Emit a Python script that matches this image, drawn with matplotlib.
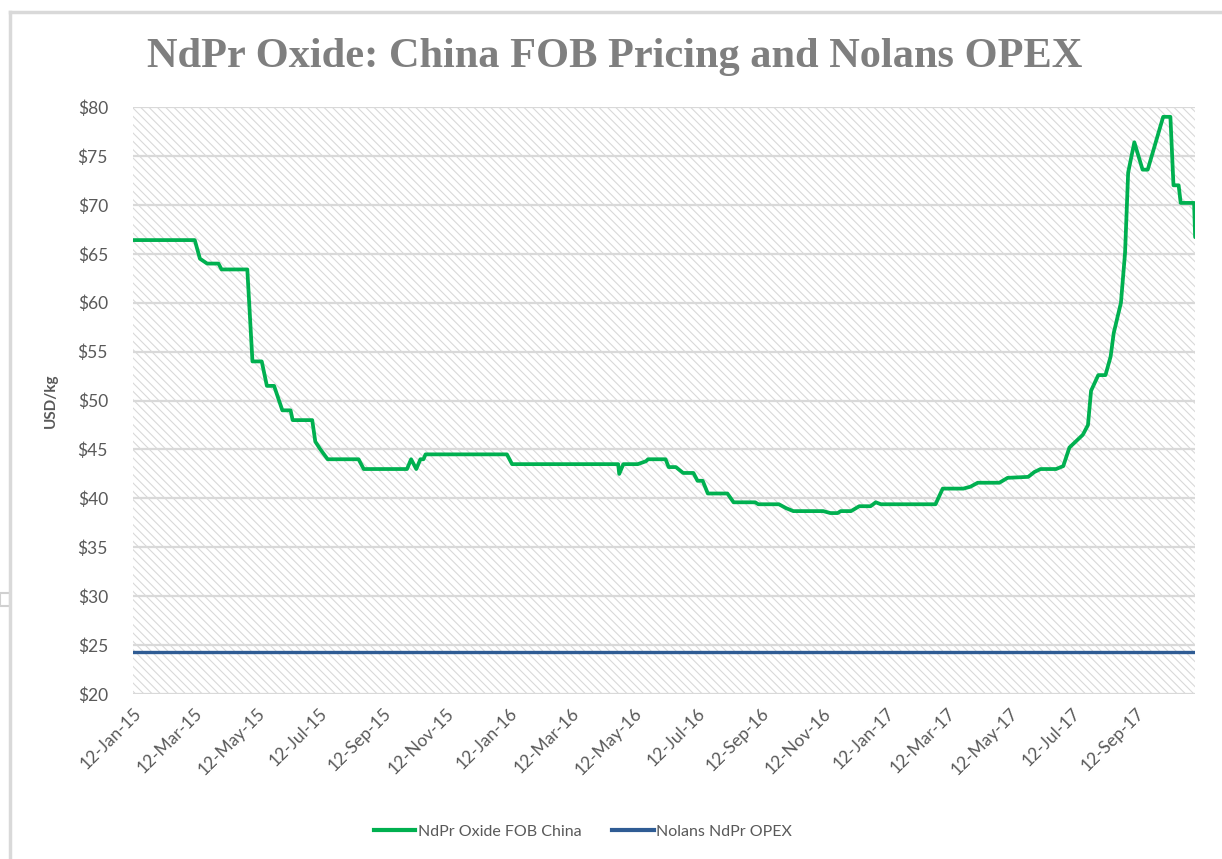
import numpy as np
import pandas as pd
import matplotlib
matplotlib.use("Agg")
import matplotlib.pyplot as plt
from matplotlib.lines import Line2D

plt.rcParams["hatch.linewidth"] = 0.8
plt.rcParams["hatch.color"] = "#d9d9d9"

# ---------------------------------------------------------------
# Data
# ---------------------------------------------------------------

fob_dates = [
    "2015-01-12", "2015-03-13", "2015-03-18", "2015-03-25", "2015-04-05",
    "2015-04-08", "2015-05-03", "2015-05-08", "2015-05-17", "2015-05-22",
    "2015-05-29", "2015-06-06", "2015-06-14", "2015-06-16", "2015-07-05",
    "2015-07-08", "2015-07-13", "2015-07-20", "2015-08-19", "2015-08-24",
    "2015-10-05", "2015-10-09", "2015-10-14", "2015-10-18", "2015-10-21",
    "2015-10-23", "2016-01-10", "2016-01-15", "2016-04-27", "2016-04-28",
    "2016-05-02", "2016-05-16", "2016-05-24", "2016-05-26", "2016-06-12",
    "2016-06-15", "2016-06-22", "2016-06-29", "2016-07-09", "2016-07-13",
    "2016-07-18", "2016-07-23", "2016-08-11", "2016-08-17", "2016-09-07",
    "2016-09-10", "2016-09-30", "2016-10-07", "2016-10-14", "2016-11-12",
    "2016-11-19", "2016-11-26", "2016-11-29", "2016-12-09", "2016-12-17",
    "2016-12-28", "2017-01-02", "2017-01-07", "2017-03-01", "2017-03-08",
    "2017-03-28", "2017-04-04", "2017-04-11", "2017-05-02", "2017-05-10",
    "2017-05-30", "2017-06-05", "2017-06-11", "2017-06-26", "2017-07-03",
    "2017-07-09", "2017-07-15", "2017-07-22", "2017-07-27", "2017-07-30",
    "2017-08-06", "2017-08-13", "2017-08-18", "2017-08-21", "2017-08-28",
    "2017-09-01", "2017-09-04", "2017-09-10", "2017-09-18", "2017-09-23",
    "2017-10-08", "2017-10-15", "2017-10-18", "2017-10-23", "2017-10-25",
    "2017-11-07", "2017-11-08",
]

fob_price = [
    66.4, 66.4, 64.5, 64.0, 64.0,
    63.4, 63.4, 54.0, 54.0, 51.5,
    51.5, 49.0, 49.0, 48.0, 48.0,
    45.8, 45.0, 44.0, 44.0, 43.0,
    43.0, 44.0, 43.0, 44.0, 44.0,
    44.5, 44.5, 43.5, 43.5, 42.5,
    43.5, 43.5, 43.8, 44.0, 44.0,
    43.2, 43.2, 42.6, 42.6, 41.8,
    41.8, 40.5, 40.5, 39.6, 39.6,
    39.4, 39.4, 39.0, 38.7, 38.7,
    38.5, 38.5, 38.7, 38.7, 39.2,
    39.2, 39.6, 39.4, 39.4, 41.0,
    41.0, 41.2, 41.6, 41.6, 42.1,
    42.2, 42.7, 43.0, 43.0, 43.3,
    45.2, 45.8, 46.5, 47.5, 51.0,
    52.6, 52.6, 54.5, 56.9, 60.0,
    65.1, 73.3, 76.4, 73.6, 73.6,
    79.0, 79.0, 72.0, 72.0, 70.2,
    70.2, 66.7,
]

opex_value = 24.3

y_ticks = [20, 25, 30, 35, 40, 45, 50, 55, 60, 65, 70, 75, 80]

x_start = "2015-01-12"
x_end = "2017-11-08"

# ---------------------------------------------------------------
# Plot
# ---------------------------------------------------------------

font = "Lato"
grey = "#595959"

fig = plt.figure(figsize=(12.22, 8.59), dpi=100)
ax = fig.add_axes([0.1088, 0.192, 0.978 - 0.1088, 0.8754 - 0.192])

x0 = pd.Timestamp(x_start)
x1 = pd.Timestamp(x_end)

ax.set_xlim(x0, x1)
ax.set_ylim(y_ticks[0], y_ticks[-1])

# hatched plot area
ax.add_patch(
    plt.Rectangle(
        (0, 0), 1, 1,
        transform=ax.transAxes,
        facecolor="white",
        edgecolor="#d9d9d9",
        hatch="\\\\\\\\",
        linewidth=0,
        zorder=0,
    )
)

for y in y_ticks:
    ax.axhline(y, color="#d9d9d9", linewidth=1.6, zorder=1)

dates = pd.to_datetime(fob_dates)

ax.plot(
    dates, fob_price,
    color="#00B050", linewidth=2.7,
    solid_joinstyle="round", solid_capstyle="round",
    zorder=3,
)

ax.plot(
    [x0, x1], [opex_value, opex_value],
    color="#2F5C94", linewidth=2.4,
    zorder=3,
)

for s in ax.spines.values():
    s.set_visible(False)

ax.set_yticks(y_ticks)
ax.set_yticklabels([f"${v}" for v in y_ticks])

tick_dates = list(pd.date_range(x0, x1, freq=pd.DateOffset(months=2)))
ax.set_xticks(tick_dates)
ax.set_xticklabels([d.strftime("%d-%b-%y") for d in tick_dates])

ax.tick_params(axis="both", length=0, colors=grey, labelsize=12.5)
ax.tick_params(axis="y", pad=18)
ax.tick_params(axis="x", pad=8)
for lab in ax.get_yticklabels() + ax.get_xticklabels():
    lab.set_fontfamily(font)
for lab in ax.get_xticklabels():
    lab.set_rotation(45)
    lab.set_ha("right")
    lab.set_rotation_mode("anchor")

ax.set_ylabel(
    "USD/kg", fontsize=11, fontweight="bold",
    color=grey, family=font, labelpad=14,
)

fig.text(
    0.503, 0.934,
    "NdPr Oxide: China FOB Pricing and Nolans OPEX",
    ha="center", va="center",
    fontsize=30.5, fontweight="bold",
    family="Liberation Serif", color="#7f7f7f",
)

handles = [
    Line2D([], [], color="#00B050", linewidth=3),
    Line2D([], [], color="#2F5C94", linewidth=3),
]
leg = fig.legend(
    handles,
    ["NdPr Oxide FOB China", "Nolans NdPr OPEX"],
    loc="center",
    bbox_to_anchor=(0.477, 0.032),
    ncol=2,
    frameon=False,
    handlelength=2.6,
    handletextpad=0.15,
    columnspacing=1.95,
    prop={"family": font, "size": 11.5},
)
for t in leg.get_texts():
    t.set_color(grey)

# chart-area border (partially visible in the reference)
fig.add_artist(Line2D([0.0085, 1.0], [0.986, 0.986], color="#d9d9d9", linewidth=2.5))
fig.add_artist(Line2D([0.0085, 0.0085], [0.0, 0.986], color="#d9d9d9", linewidth=2.5))
fig.add_artist(plt.Rectangle((0.0, 0.295), 0.0085, 0.015, fill=False, edgecolor="#d0d0d0", linewidth=1.5))

fig.savefig("out.png", dpi=100)
